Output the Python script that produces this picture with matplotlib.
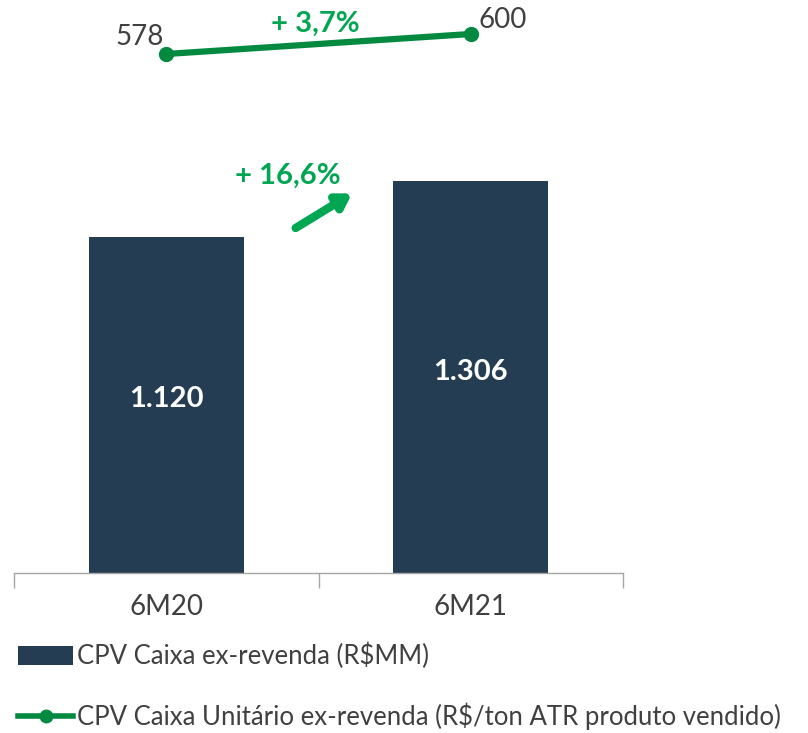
import matplotlib
matplotlib.use("Agg")
import matplotlib.pyplot as plt
from matplotlib.patches import Patch
from matplotlib.lines import Line2D

plt.rcParams["font.family"] = ["Lato", "DejaVu Sans"]

periods = ["6M20", "6M21"]
cpv_caixa = [1120, 1306]
cpv_unitario = [578, 600]
bar_labels = ["1.120", "1.306"]
line_labels = ["578", "600"]
growth_bar = "+ 16,6%"
growth_line = "+ 3,7%"
legend_labels = [
    "CPV Caixa ex-revenda (R$MM)",
    "CPV Caixa Unitário ex-revenda (R$/ton ATR produto vendido)",
]

COLORS = {
    "bar": "#243d52",
    "line": "#048a40",
    "growth": "#00a651",
    "text": "#404040",
    "axis": "#a6a6a6",
}

W, H = 808, 733
fig = plt.figure(figsize=(W / 100, H / 100), dpi=100)
ax_pos = [14 / W, 1 - 573 / H, (623 - 14) / W, 573 / H]
ax = fig.add_axes(ax_pos)

x = list(range(len(periods)))
ax.bar(x, cpv_caixa, width=0.51, color=COLORS["bar"], zorder=2)
ax.set_xlim(-0.5, 1.5)
ax.set_ylim(0, 1910)

for xi, v, lab in zip(x, cpv_caixa, bar_labels):
    ax.annotate(lab, (xi, v / 2), xytext=(0, 4), textcoords="offset points",
                ha="center", va="center", color="white", fontsize=21, fontweight="bold")

ax.set_xticks([-0.5, 0.5, 1.5])
ax.set_xticklabels([])
ax.set_xticks(x, minor=True)
ax.set_xticklabels(periods, minor=True)
ax.tick_params(axis="x", which="major", length=11, width=1, color=COLORS["axis"], direction="out")
ax.tick_params(axis="x", which="minor", length=0, pad=15, labelsize=20, labelcolor=COLORS["text"])
ax.set_yticks([])
for s in ["top", "right", "left"]:
    ax.spines[s].set_visible(False)
ax.spines["bottom"].set_color(COLORS["axis"])
ax.spines["bottom"].set_linewidth(1)

# growth arrow for bars
ax.annotate("", xy=(0.61, 1265), xytext=(0.425, 1150),
            arrowprops=dict(arrowstyle="-|>,head_length=0.8,head_width=0.5",
                            color=COLORS["growth"], lw=6, shrinkA=0, shrinkB=0))
ax.text(0.40, 1325, growth_bar, ha="center", va="center", color=COLORS["growth"],
        fontsize=21, fontweight="bold")

# unit cost line on its own scale
ax2 = fig.add_axes(ax_pos, sharex=ax)
ax2.patch.set_visible(False)
ax2.axis("off")
ax2.set_ylim(7, 637.4)
ax2.plot(x, cpv_unitario, color=COLORS["line"], lw=4.5, marker="o", markersize=10,
         solid_capstyle="round", zorder=3)
ax2.annotate(line_labels[0], (x[0], cpv_unitario[0]), xytext=(-19, 12), textcoords="offset points",
             ha="center", va="center", fontsize=20, color=COLORS["text"])
ax2.annotate(line_labels[1], (x[1], cpv_unitario[1]), xytext=(23, 10), textcoords="offset points",
             ha="center", va="center", fontsize=20, color=COLORS["text"])
ax2.text(0.49, (cpv_unitario[0] + cpv_unitario[1]) / 2 + 22, growth_line, ha="center", va="center",
         color=COLORS["growth"], fontsize=21, fontweight="bold")

handles = [
    Patch(facecolor=COLORS["bar"], edgecolor="none"),
    Line2D([0], [0], color=COLORS["line"], lw=4, marker="o", markersize=9),
]
fig.legend(handles, legend_labels, loc="upper left", bbox_to_anchor=(18 / W, 1 - 643 / H),
           frameon=False, fontsize=18.5, labelcolor=COLORS["text"], handlelength=2.15,
           handleheight=0.75, handletextpad=0.15, labelspacing=1.3, borderaxespad=0,
           borderpad=0)

fig.savefig("out.png", dpi=100, facecolor="white")
